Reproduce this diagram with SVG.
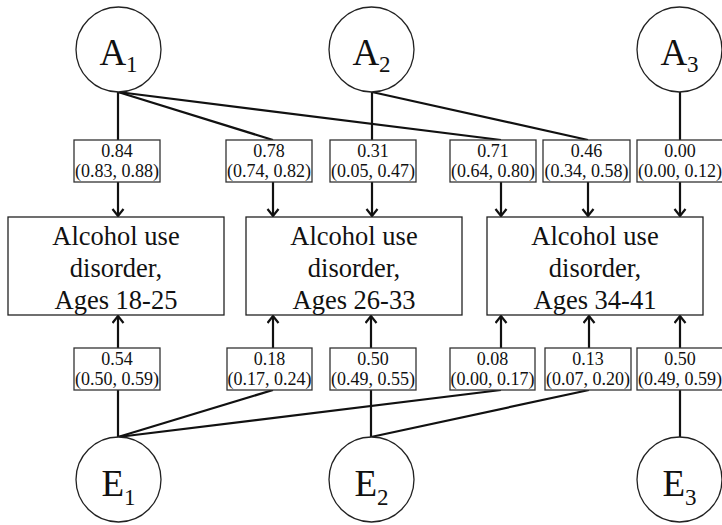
<svg xmlns="http://www.w3.org/2000/svg" width="722" height="525" viewBox="0 0 722 525">
<style>
.c{fill:#fff;stroke:#222;stroke-width:1.3}
.b{fill:#fff;stroke:#222;stroke-width:1.3}
.l{fill:#fff;stroke:#333;stroke-width:1.3}
.e{stroke:#111;stroke-width:2.2;fill:none}
.t{font-family:"Liberation Serif","Times New Roman",serif;fill:#111;text-anchor:middle}
.big{font-size:26.5px}
.sm{font-size:18px}
.lat{font-size:37px}
.sub{font-size:23px}
</style>
<defs>
<marker id="arr" markerUnits="userSpaceOnUse" markerWidth="14" markerHeight="14" refX="8" refY="6.5" orient="auto">
<path d="M1,1 L8,6.5 L1,12" fill="none" stroke="#111" stroke-width="2.2"/>
</marker>
</defs>
<g id="connectors">
<line class="e" x1="118" y1="92" x2="118" y2="140"/>
<line class="e" x1="118" y1="92" x2="273" y2="140"/>
<line class="e" x1="118" y1="92" x2="501" y2="140"/>
<line class="e" x1="372" y1="92" x2="372" y2="140"/>
<line class="e" x1="372" y1="92" x2="588" y2="140"/>
<line class="e" x1="680" y1="92" x2="680" y2="140"/>
<line class="e" x1="118" y1="182" x2="118" y2="216" marker-end="url(#arr)"/>
<line class="e" x1="273" y1="182" x2="273" y2="216" marker-end="url(#arr)"/>
<line class="e" x1="372" y1="182" x2="372" y2="216" marker-end="url(#arr)"/>
<line class="e" x1="501" y1="182" x2="501" y2="216" marker-end="url(#arr)"/>
<line class="e" x1="588" y1="182" x2="588" y2="216" marker-end="url(#arr)"/>
<line class="e" x1="680" y1="182" x2="680" y2="216" marker-end="url(#arr)"/>
<line class="e" x1="118" y1="348" x2="118" y2="316" marker-end="url(#arr)"/>
<line class="e" x1="273" y1="348" x2="273" y2="316" marker-end="url(#arr)"/>
<line class="e" x1="371" y1="348" x2="371" y2="316" marker-end="url(#arr)"/>
<line class="e" x1="501" y1="348" x2="501" y2="316" marker-end="url(#arr)"/>
<line class="e" x1="589" y1="348" x2="589" y2="316" marker-end="url(#arr)"/>
<line class="e" x1="680" y1="348" x2="680" y2="316" marker-end="url(#arr)"/>
<line class="e" x1="118" y1="437" x2="118" y2="390"/>
<line class="e" x1="118" y1="437" x2="273" y2="390"/>
<line class="e" x1="118" y1="437" x2="501" y2="390"/>
<line class="e" x1="371" y1="437" x2="371" y2="390"/>
<line class="e" x1="371" y1="437" x2="589" y2="390"/>
<line class="e" x1="680" y1="437" x2="680" y2="390"/>
</g>
<g id="A1"><circle class="c" cx="118.5" cy="49.5" r="42.5"/><text class="t lat" x="118.5" y="65">A<tspan class="sub" dy="7">1</tspan></text></g>
<g id="A2"><circle class="c" cx="371.5" cy="49.5" r="42.5"/><text class="t lat" x="371.5" y="65">A<tspan class="sub" dy="7">2</tspan></text></g>
<g id="A3"><circle class="c" cx="679.5" cy="49.5" r="42.5"/><text class="t lat" x="679.5" y="65">A<tspan class="sub" dy="7">3</tspan></text></g>
<g id="E1"><circle class="c" cx="118.5" cy="479.5" r="42.5"/><text class="t lat" x="118.5" y="496">E<tspan class="sub" dy="9">1</tspan></text></g>
<g id="E2"><circle class="c" cx="371.5" cy="479.5" r="42.5"/><text class="t lat" x="371.5" y="496">E<tspan class="sub" dy="9">2</tspan></text></g>
<g id="E3"><circle class="c" cx="679.5" cy="479.5" r="42.5"/><text class="t lat" x="679.5" y="496">E<tspan class="sub" dy="9">3</tspan></text></g>
<g id="AUD1"><rect class="b" x="8" y="217" width="216" height="98"/><text class="t big"><tspan x="116" y="245">Alcohol use</tspan><tspan x="116" y="277">disorder,</tspan><tspan x="116" y="309">Ages 18-25</tspan></text></g>
<g id="AUD2"><rect class="b" x="246" y="217" width="216" height="98"/><text class="t big"><tspan x="354" y="245">Alcohol use</tspan><tspan x="354" y="277">disorder,</tspan><tspan x="354" y="309">Ages 26-33</tspan></text></g>
<g id="AUD3"><rect class="b" x="487" y="217" width="216" height="98"/><text class="t big"><tspan x="595" y="245">Alcohol use</tspan><tspan x="595" y="277">disorder,</tspan><tspan x="595" y="309">Ages 34-41</tspan></text></g>
<g id="la1"><rect class="l" x="74" y="140" width="86" height="42"/><text class="t sm"><tspan x="117" y="157">0.84</tspan><tspan x="117" y="177">(0.83, 0.88)</tspan></text></g>
<g id="la2"><rect class="l" x="226" y="140" width="86" height="42"/><text class="t sm"><tspan x="269" y="157">0.78</tspan><tspan x="269" y="177">(0.74, 0.82)</tspan></text></g>
<g id="la3"><rect class="l" x="330" y="140" width="86" height="42"/><text class="t sm"><tspan x="373" y="157">0.31</tspan><tspan x="373" y="177">(0.05, 0.47)</tspan></text></g>
<g id="la4"><rect class="l" x="450" y="140" width="86" height="42"/><text class="t sm"><tspan x="493" y="157">0.71</tspan><tspan x="493" y="177">(0.64, 0.80)</tspan></text></g>
<g id="la5"><rect class="l" x="543" y="140" width="87" height="42"/><text class="t sm"><tspan x="586.5" y="157">0.46</tspan><tspan x="586.5" y="177">(0.34, 0.58)</tspan></text></g>
<g id="la6"><rect class="l" x="637" y="140" width="86" height="42"/><text class="t sm"><tspan x="680" y="157">0.00</tspan><tspan x="680" y="177">(0.00, 0.12)</tspan></text></g>
<g id="le1"><rect class="l" x="74" y="348" width="86" height="42"/><text class="t sm"><tspan x="117" y="365">0.54</tspan><tspan x="117" y="385">(0.50, 0.59)</tspan></text></g>
<g id="le2"><rect class="l" x="227" y="348" width="85" height="42"/><text class="t sm"><tspan x="269.5" y="365">0.18</tspan><tspan x="269.5" y="385">(0.17, 0.24)</tspan></text></g>
<g id="le3"><rect class="l" x="330" y="348" width="86" height="42"/><text class="t sm"><tspan x="373" y="365">0.50</tspan><tspan x="373" y="385">(0.49, 0.55)</tspan></text></g>
<g id="le4"><rect class="l" x="450" y="348" width="85" height="42"/><text class="t sm"><tspan x="492.5" y="365">0.08</tspan><tspan x="492.5" y="385">(0.00, 0.17)</tspan></text></g>
<g id="le5"><rect class="l" x="545" y="348" width="86" height="42"/><text class="t sm"><tspan x="588" y="365">0.13</tspan><tspan x="588" y="385">(0.07, 0.20)</tspan></text></g>
<g id="le6"><rect class="l" x="637" y="348" width="86" height="42"/><text class="t sm"><tspan x="680" y="365">0.50</tspan><tspan x="680" y="385">(0.49, 0.59)</tspan></text></g>
</svg>
